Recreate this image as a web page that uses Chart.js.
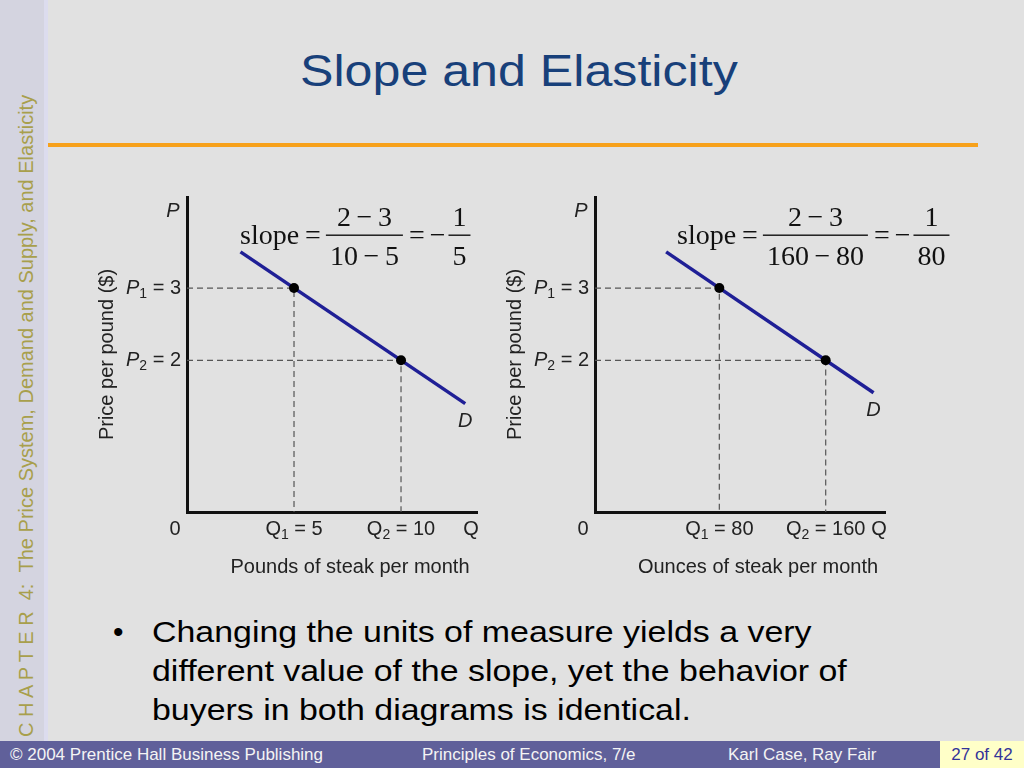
<!DOCTYPE html>
<html>
<head>
<meta charset="utf-8">
<script src="https://cdn.jsdelivr.net/npm/chart.js@4.4.1/dist/chart.umd.min.js"></script>
<style>
  body { margin: 0; background: #e1e1e1; }
  #slide { position: relative; width: 1024px; height: 768px; overflow: hidden; background: #e1e1e1; font-family: "Liberation Sans", Arial, sans-serif; }
  #strip { position: absolute; left: 0; top: 0; width: 44px; height: 741px; background: #d4d4e0; border-right: 4px solid #dcdcee; }
  #stripText { position: absolute; left: 14px; top: 737px; white-space: nowrap; font-size: 20px; line-height: 24px; color: #a89f4c; transform-origin: left top; transform: rotate(-90deg); }
  #title { position: absolute; left: 300px; top: 49px; font-size: 44px; line-height: 44px; color: #18407a; white-space: nowrap; transform-origin: left top; transform: scaleX(1.14); }
  #rule { position: absolute; left: 48px; top: 143px; width: 930px; height: 4px; background: #f7a11a; }
  #bullet { position: absolute; left: 152px; top: 612px; font-size: 30px; line-height: 39px; color: #000; white-space: nowrap; transform-origin: left top; transform: scaleX(1.13); }
  #dot { position: absolute; left: 113px; top: 612px; font-size: 30px; line-height: 39px; }
  #footer { position: absolute; left: 0; top: 741px; width: 1024px; height: 27px; background: #60609a; color: #f4f4f4; font-size: 17px; line-height: 27px; }
  #footer span { position: absolute; top: 0; white-space: nowrap; }
  #page { position: absolute; left: 940px; top: 0; width: 84px; height: 27px; background: #ffffc8; color: #333399; text-align: center; }
  canvas { position: absolute; }
</style>
</head>
<body>
<div id="slide">
  <div id="strip"></div>
  <div id="stripText">C H A P T E R &nbsp;4: &nbsp;The Price System, Demand and Supply, and Elasticity</div>
  <div id="title">Slope and Elasticity</div>
  <div id="rule"></div>
  <canvas id="chart-left" width="410" height="410" style="left:90px; top:185px;"></canvas>
  <canvas id="chart-right" width="460" height="410" style="left:500px; top:185px;"></canvas>
  <div id="dot">•</div>
  <div id="bullet">Changing the units of measure yields a very<br>different value of the slope, yet the behavior of<br>buyers in both diagrams is identical.</div>
  <div id="footer">
    <span style="left:10px;">© 2004 Prentice Hall Business Publishing</span>
    <span style="left:422px;">Principles of Economics, 7/e</span>
    <span style="left:728px;">Karl Case, Ray Fair</span>
    <span id="page">27 of 42</span>
  </div>
</div>
<script>
'use strict';

// ********** DATA **********

// prices are the same on both diagrams
let pointPrices = [3, 2];
let priceSubs = ['1', '2'];

// left diagram: pounds of steak
let poundsQ = [5, 10];
let poundsDemandQ = [2.5, 13];
let poundsDemandP = [3.5, 1.4];

// right diagram: ounces of steak
let ouncesQ = [80, 160];
let ouncesDemandQ = [40, 196];
let ouncesDemandP = [3.5, 1.55];

// ********** HELPERS **********

const SANS = '"Liberation Sans", Arial, sans-serif';
const SERIF = '"Liberation Serif", "Times New Roman", serif';
const INK = '#222';

// draws text made of parts: [text, style] where style is 'i' (italic), 's' (subscript) or ''
function drawParts(ctx, parts, x, y, align) {
  let fonts = parts.map(p => p[1] === 'i' ? 'italic 20px ' + SANS : p[1] === 's' ? '14px ' + SANS : '20px ' + SANS);
  let widths = parts.map((p, i) => { ctx.font = fonts[i]; return ctx.measureText(p[0]).width; });
  let total = widths.reduce((a, b) => a + b, 0);
  let cx = align === 'right' ? x - total : align === 'center' ? x - total / 2 : x;
  ctx.textAlign = 'left';
  ctx.textBaseline = 'middle';
  parts.forEach((p, i) => {
    ctx.font = fonts[i];
    ctx.fillText(p[0], cx, p[1] === 's' ? y + 6 : y);
    cx += widths[i];
  });
}

function drawFrac(ctx, x, base, num, den) {
  let w = Math.max(ctx.measureText(num).width, ctx.measureText(den).width) + 8;
  ctx.textAlign = 'center';
  ctx.fillText(num, x + w / 2, base - 18);
  ctx.fillText(den, x + w / 2, base + 21);
  ctx.fillRect(x, base - 9.5, w, 1.4);
  ctx.textAlign = 'left';
  return x + w;
}

function drawFormula(ctx, x, base, f) {
  ctx.font = '28px ' + SERIF;
  ctx.fillStyle = '#111';
  ctx.textBaseline = 'alphabetic';
  ctx.textAlign = 'left';
  ctx.fillText('slope', x, base);
  x += ctx.measureText('slope').width + 6;
  ctx.fillText('=', x, base);
  x += ctx.measureText('=').width + 5;
  x = drawFrac(ctx, x, base, f[0], f[1]) + 6;
  ctx.fillText('=', x, base);
  x += ctx.measureText('=').width + 5;
  ctx.fillText('\u2212', x, base);
  x += ctx.measureText('\u2212').width + 3;
  drawFrac(ctx, x, base, f[2], f[3]);
}

// ********** LABEL PLUGIN **********

let econLabels = {
  id: 'econLabels',
  afterDatasetsDraw(chart, args, opts) {
    let ctx = chart.ctx;
    let ca = chart.chartArea;
    let xs = chart.scales.x;
    let ys = chart.scales.y;
    ctx.save();
    ctx.fillStyle = INK;

    drawParts(ctx, [['P', 'i']], ca.left - 14, ca.top + 14, 'center');
    for (let i = 0; i < pointPrices.length; i++) {
      let py = ys.getPixelForValue(pointPrices[i]);
      drawParts(ctx, [['P', 'i'], [priceSubs[i], 's'], [' = ' + pointPrices[i], '']], ca.left - 6, py, 'right');
      let px = xs.getPixelForValue(opts.qValues[i]);
      drawParts(ctx, [['Q', ''], [priceSubs[i], 's'], [' = ' + opts.qValues[i], '']], px, ca.bottom + 17, 'center');
    }
    drawParts(ctx, [['0', '']], ca.left - 12, ca.bottom + 17, 'center');
    drawParts(ctx, [['Q', '']], ca.right - 6, ca.bottom + 17, 'center');
    drawParts(ctx, [[opts.xTitle, '']], ca.left + 163, ca.bottom + 55, 'center');

    let dq = opts.demandQ[opts.demandQ.length - 1];
    let dp = opts.demandP[opts.demandP.length - 1];
    drawParts(ctx, [['D', 'i']], xs.getPixelForValue(dq), ys.getPixelForValue(dp) + 18, 'center');

    ctx.save();
    ctx.translate(ca.left - 80, (ca.top + ca.bottom) / 2);
    ctx.rotate(-Math.PI / 2);
    drawParts(ctx, [['Price per pound ($)', '']], 0, 0, 'center');
    ctx.restore();

    drawFormula(ctx, opts.formulaX, 59, opts.formula);
    ctx.restore();
  }
};

// ********** CHART BUILDER **********

function buildChart(canvasId, qValues, demandQ, demandP, xMin, xMax, padLeft, padRight, xTitle, formula, formulaX) {
  let yMin = -0.1;
  let yMax = 4.26;
  let demand = demandQ.map((q, i) => ({ x: q, y: demandP[i] }));
  let dots = qValues.map((q, i) => ({ x: q, y: pointPrices[i] }));
  let datasets = [
    { data: dots, showLine: false, pointRadius: 5, pointBackgroundColor: '#000', pointBorderWidth: 0 },
    { data: demand, showLine: true, borderColor: '#1f1f96', borderWidth: 3.5, pointRadius: 0 }
  ];
  qValues.forEach((q, i) => {
    datasets.push({
      data: [{ x: xMin, y: pointPrices[i] }, { x: q, y: pointPrices[i] }, { x: q, y: yMin }],
      showLine: true, borderColor: '#555', borderWidth: 1.2, borderDash: [6, 4], pointRadius: 0
    });
  });

  let axisBorder = { display: true, color: '#111', width: 3 };
  return new Chart(document.getElementById(canvasId), { //eslint-disable-line
    type: 'scatter',
    data: { datasets: datasets },
    options: {
      responsive: false,
      animation: false,
      layout: { padding: { left: padLeft, right: padRight, top: 12, bottom: 83 } },
      plugins: {
        legend: { display: false },
        tooltip: { enabled: false },
        econLabels: { qValues: qValues, demandQ: demandQ, demandP: demandP, xTitle: xTitle, formula: formula, formulaX: formulaX }
      },
      scales: {
        x: { type: 'linear', min: xMin, max: xMax, grid: { display: false, drawTicks: false }, ticks: { display: false }, border: axisBorder },
        y: { type: 'linear', min: yMin, max: yMax, grid: { display: false, drawTicks: false }, ticks: { display: false }, border: axisBorder }
      }
    },
    plugins: [econLabels]
  });
}

// ********** EXECUTABLE CODE **********

buildChart('chart-left', poundsQ, poundsDemandQ, poundsDemandP, 0, 13.55, 97, 23,
  'Pounds of steak per month', ['2\u2009\u2212\u20093', '10\u2009\u2212\u20095', '1', '5'], 150);
buildChart('chart-right', ouncesQ, ouncesDemandQ, ouncesDemandP, -13.5, 204.6, 95, 75,
  'Ounces of steak per month', ['2\u2009\u2212\u20093', '160\u2009\u2212\u200980', '1', '80'], 177);
</script>
</body>
</html>
